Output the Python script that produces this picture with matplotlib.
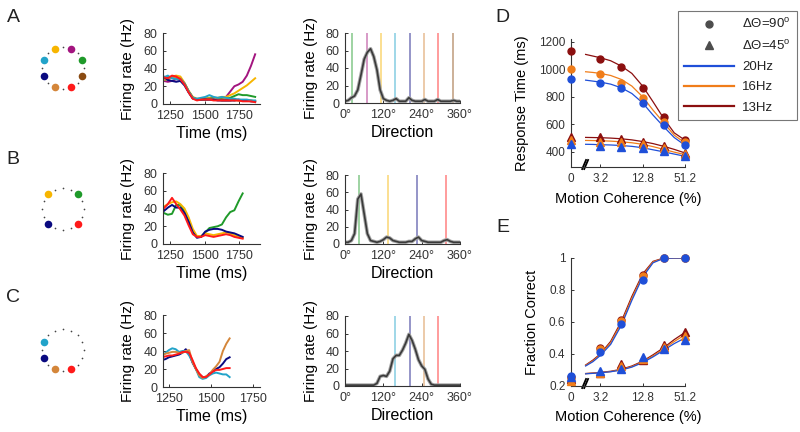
import matplotlib.pyplot as plt
import numpy as np
from matplotlib.lines import Line2D
from matplotlib.ticker import NullLocator

plt.rcParams['font.family'] = ['Liberation Sans', 'DejaVu Sans']
plt.rcParams['mathtext.fontset'] = 'custom'
plt.rcParams['mathtext.rm'] = 'Liberation Sans'
plt.rcParams['axes.linewidth'] = 0.8
plt.rcParams['axes.edgecolor'] = '#333333'
plt.rcParams['xtick.color'] = '#333333'
plt.rcParams['ytick.color'] = '#333333'
plt.rcParams['text.color'] = '#222222'

## DATA ------
col = {
    'yellow': '#f7b500', 'purple': '#a3157f', 'green': '#1f9a2a', 'brown': '#8a4b12',
    'red': '#ff1a1a', 'tan': '#d4863a', 'navy': '#0a0a80', 'cyan': '#22a3c9',
}

# target direction of each colour (deg)
dir_of = {'green': 22.5, 'purple': 67.5, 'yellow': 112.5, 'cyan': 157.5,
          'navy': 202.5, 'tan': 247.5, 'red': 292.5, 'brown': 337.5}
dirs_A = ['green', 'purple', 'yellow', 'cyan', 'navy', 'tan', 'red', 'brown']
dirs_B = {'green': 45, 'yellow': 135, 'navy': 225, 'red': 315}
dirs_C = ['cyan', 'navy', 'tan', 'red']

# firing rate traces (Hz)
t_A = [1205, 1235, 1265, 1295, 1325, 1355, 1385, 1415, 1445, 1475, 1505, 1535,
       1565, 1595, 1625, 1655, 1685, 1715, 1745, 1775, 1805, 1835, 1865]
rate_A = {
    'purple': [26, 25, 26, 28, 27, 22, 14, 7, 5, 5, 6, 6, 6, 6, 6, 8, 14, 20, 22, 25, 32, 43, 56],
    'yellow': [28, 30, 31, 32, 31, 24, 15, 8, 6, 6, 6, 7, 7, 7, 8, 8, 10, 12, 15, 18, 21, 25, 29],
    'green':  [27, 28, 30, 29, 28, 23, 14, 7, 5, 5, 6, 6, 7, 6, 6, 6, 7, 9, 11, 10, 10, 9, 8],
    'brown':  [29, 30, 30, 29, 28, 23, 14, 7, 5, 5, 5, 5, 5, 5, 4, 4, 4, 5, 4, 4, 4, 4, 3],
    'tan':    [27, 28, 30, 30, 29, 23, 14, 7, 5, 5, 5, 6, 6, 5, 5, 6, 5, 4, 4, 4, 4, 3, 3],
    'navy':   [31, 27, 26, 25, 26, 21, 13, 6, 5, 5, 5, 5, 5, 4, 4, 4, 4, 4, 5, 4, 4, 3, 3],
    'cyan':   [30, 32, 29, 28, 28, 23, 14, 7, 6, 7, 8, 10, 8, 7, 8, 7, 6, 6, 5, 5, 5, 4, 4],
    'red':    [30, 29, 32, 31, 28, 22, 13, 6, 4, 5, 5, 5, 4, 4, 4, 4, 4, 4, 4, 3, 3, 3, 2],
}
t_B = [1205, 1235, 1265, 1295, 1325, 1355, 1385, 1415, 1445, 1475,
       1505, 1535, 1565, 1595, 1625, 1655, 1685, 1715, 1745, 1775]
rate_B = {
    'green':  [35, 33, 34, 44, 44, 37, 26, 14, 8, 8, 13, 18, 19, 20, 22, 30, 36, 38, 48, 57],
    'yellow': [42, 45, 47, 48, 45, 40, 30, 17, 9, 9, 12, 11, 10, 11, 12, 13, 12, 10, 8, 7],
    'navy':   [37, 41, 44, 41, 41, 35, 25, 13, 7, 8, 14, 16, 17, 17, 16, 14, 13, 12, 10, 8],
    'red':    [40, 45, 52, 45, 39, 32, 21, 11, 8, 8, 10, 9, 8, 9, 10, 11, 10, 8, 7, 6],
}
t_C = [1210, 1230, 1250, 1270, 1290, 1310, 1330, 1350, 1370, 1390, 1410,
       1430, 1450, 1470, 1490, 1510, 1530, 1550, 1570, 1590, 1610]
rate_C = {
    'navy': [30, 31, 33, 34, 35, 36, 38, 42, 37, 27, 20, 14, 11, 11, 15, 17, 20, 22, 26, 31, 33],
    'cyan': [35, 38, 41, 43, 42, 39, 40, 40, 35, 28, 20, 11, 9, 10, 13, 15, 16, 15, 14, 14, 11],
    'tan':  [35, 37, 38, 39, 39, 38, 38, 40, 41, 28, 20, 13, 10, 12, 14, 19, 23, 28, 40, 48, 54],
    'red':  [33, 34, 35, 35, 36, 37, 39, 39, 38, 30, 21, 15, 11, 11, 14, 17, 19, 19, 20, 21, 21],
}

# direction tuning (Hz)
theta = [0, 10, 20, 30, 40, 50, 60, 70, 80, 90, 100, 110, 120, 130, 140, 150, 160, 170, 180,
         190, 200, 210, 220, 230, 240, 250, 260, 270, 280, 290, 300, 310, 320, 330, 340, 350, 360]
tune_A = [2, 3, 6, 8, 15, 32, 50, 58, 62, 53, 38, 15, 5, 3, 2, 3, 5, 2, 2,
          2, 6, 3, 2, 2, 2, 4, 2, 2, 2, 4, 2, 2, 2, 2, 3, 2, 2]
tune_B = [2, 2, 4, 12, 52, 58, 35, 12, 4, 3, 2, 3, 5, 8, 7, 4, 3, 2, 2,
          2, 3, 3, 6, 8, 4, 3, 2, 2, 2, 2, 2, 4, 5, 3, 2, 2, 2]
tune_C = [1, 1, 1, 1, 1, 1, 1, 1, 1, 1, 3, 11, 12, 11, 17, 31, 35, 35, 41,
          49, 59, 52, 42, 30, 23, 19, 8, 2, 1, 1, 1, 1, 1, 1, 1, 1, 1]

# behaviour vs motion coherence
coh = [0, 3.2, 6.4, 12.8, 25.6, 51.2]
coh_fit = [1.6, 2.4, 3.2, 4.5, 6.4, 9, 12.8, 18, 25.6, 36, 51.2]
freqs = ['13Hz', '16Hz', '20Hz']
fcol = {'20Hz': '#1f4fd8', '16Hz': '#f07d1a', '13Hz': '#8b0f0f'}

rt90 = {'13Hz': [1132, 1074, 1013, 861, 650, 485],
        '16Hz': [1000, 965, 897, 788, 618, 473],
        '20Hz': [928, 902, 861, 752, 594, 453]}
rt45 = {'13Hz': [508, 505, 492, 475, 440, 395],
        '16Hz': [488, 475, 470, 455, 425, 383],
        '20Hz': [457, 445, 437, 425, 403, 372]}
rt90_fit = {'13Hz': [1108, 1096, 1084, 1062, 1023, 970, 878, 764, 642, 538, 485],
            '16Hz': [982, 977, 970, 955, 926, 878, 800, 703, 611, 521, 465],
            '20Hz': [921, 914, 907, 892, 865, 824, 756, 667, 582, 504, 448]}
rt45_fit = {'13Hz': [505, 504, 503, 500, 495, 487, 475, 460, 440, 418, 392],
            '16Hz': [483, 482, 481, 478, 473, 466, 455, 438, 418, 398, 380],
            '20Hz': [455, 454, 452, 450, 446, 440, 430, 415, 400, 384, 368]}

pc90 = {'13Hz': [0.255, 0.44, 0.615, 0.895, 1.0, 1.0],
        '16Hz': [0.25, 0.43, 0.605, 0.885, 1.0, 1.0],
        '20Hz': [0.26, 0.415, 0.585, 0.86, 1.0, 1.0]}
pc45 = {'13Hz': [0.245, 0.28, 0.335, 0.365, 0.455, 0.535],
        '16Hz': [0.23, 0.28, 0.325, 0.37, 0.445, 0.515],
        '20Hz': [0.255, 0.295, 0.305, 0.38, 0.43, 0.49]}
pc90_fit = {'13Hz': [0.331, 0.362, 0.40, 0.479, 0.605, 0.76, 0.90, 0.979, 1.0, 1.0, 1.0],
            '16Hz': [0.328, 0.357, 0.395, 0.47, 0.593, 0.748, 0.89, 0.975, 0.999, 1.0, 1.0],
            '20Hz': [0.325, 0.352, 0.39, 0.46, 0.58, 0.735, 0.88, 0.97, 0.998, 1.0, 1.0]}
pc45_fit = {'13Hz': [0.278, 0.281, 0.285, 0.292, 0.305, 0.325, 0.355, 0.395, 0.44, 0.49, 0.535],
            '16Hz': [0.277, 0.280, 0.284, 0.290, 0.302, 0.321, 0.350, 0.388, 0.432, 0.478, 0.52],
            '20Hz': [0.276, 0.279, 0.283, 0.289, 0.300, 0.318, 0.346, 0.382, 0.424, 0.465, 0.50]}


## LAYOUT ------
W, H = 800, 432
fig = plt.figure(figsize=(W / 100, H / 100), dpi=100)


def ax_px(l, t, r, b):
    # axes placed by pixel box (left, top, right, bottom)
    return fig.add_axes([l / W, 1 - b / H, (r - l) / W, (b - t) / H])


def style(ax, fs=9):
    ax.spines['top'].set_visible(False)
    ax.spines['right'].set_visible(False)
    ax.tick_params(direction='in', length=2.5, width=0.7, labelsize=fs, pad=4)


def circle(cx, cy, coloured):
    ax = ax_px(cx - 30, cy - 30, cx + 30, cy + 30)
    ax.set_xlim(-1.43, 1.43)
    ax.set_ylim(-1.43, 1.43)
    ax.set_axis_off()
    for k in range(16):
        ang = k * 22.5
        x, y = np.cos(np.radians(ang)), np.sin(np.radians(ang))
        hit = [c for c, a in coloured.items() if abs(a - ang) < 1]
        if hit:
            ax.scatter([x], [y], s=30, color=col[hit[0]], zorder=3, lw=0)
        else:
            ax.scatter([x], [y], s=1.5, color='#444444', lw=0)


def time_panel(t, rates, box, xlim):
    ax = ax_px(*box)
    for c, r in rates.items():
        ax.plot(t, r, color=col[c], lw=1.4)
    ax.set_xlim(*xlim)
    ax.set_ylim(0, 80)
    ax.set_xticks([1250, 1500, 1750])
    ax.set_yticks([0, 20, 40, 60, 80])
    style(ax)
    ax.set_xlabel('Time (ms)', fontsize=11.5, labelpad=3)
    ax.set_ylabel('Firing rate (Hz)', fontsize=11, labelpad=6)
    return ax


def dir_panel(tune, lines, box):
    ax = ax_px(*box)
    for c, a in lines.items():
        ax.axvline(a, color=col[c], lw=1.1, alpha=0.55)
    ax.plot(theta, tune, color='#a5a5a5', lw=2.6, solid_capstyle='round')
    ax.plot(theta, tune, color='#3a3a3a', lw=1.2)
    ax.set_xlim(0, 360)
    ax.set_ylim(0, 80)
    ax.set_xticks([0, 120, 240, 360])
    ax.set_xticklabels(['0°', '120°', '240°', '360°'])
    ax.set_yticks([0, 20, 40, 60, 80])
    style(ax)
    ax.set_xlabel('Direction', fontsize=11.5, labelpad=3)
    ax.set_ylabel('Firing rate (Hz)', fontsize=11, labelpad=5)
    return ax


# A
circle(63, 68, {c: dir_of[c] for c in dirs_A})
time_panel(t_A, rate_A, (163, 33, 260, 104), (1200, 1900))
dir_panel(tune_A, {c: dir_of[c] for c in dirs_A}, (345, 33, 460, 103))

# B
circle(63, 209, dirs_B)
time_panel(t_B, rate_B, (163, 173, 260, 244), (1200, 1900))
dir_panel(tune_B, dirs_B, (345, 175, 460, 244))

# C
circle(63, 350, {c: dir_of[c] for c in dirs_C})
time_panel(t_C, rate_C, (163, 315, 260, 387), (1215, 1790))
dir_panel(tune_C, {c: dir_of[c] for c in dirs_C}, (345, 316, 460, 386))


def coh_panel(ax, d90, d45, f90, f45):
    ax.set_xscale('symlog', base=2, linthresh=3.2, linscale=0.69)
    for f in freqs:
        c = fcol[f]
        ax.plot(coh_fit, f90[f], color=c, lw=0.9)
        ax.plot(coh_fit, f45[f], color=c, lw=0.9)
        ax.plot(coh, d90[f], ls='none', marker='o', ms=5, color=c, mec=c, clip_on=False, zorder=4)
        ax.plot(coh, d45[f], ls='none', marker='^', ms=5.5, color=c, mec=c, clip_on=False, zorder=4)
    ax.set_xlim(0, 51.2)
    ax.set_xticks([0, 3.2, 12.8, 51.2])
    ax.set_xticklabels(['0', '3.2', '12.8', '51.2'])
    ax.xaxis.set_minor_locator(NullLocator())
    style(ax, fs=8.5)
    # axis break mark
    for dx in (0, 0.018):
        ax.plot([0.098 + dx, 0.132 + dx], [-0.016, 0.055], color='black', lw=1.3,
                transform=ax.transAxes, clip_on=False)
    ax.set_xlabel('Motion Coherence (%)', fontsize=10.5, labelpad=5)


axD = ax_px(571, 39, 685, 167)
coh_panel(axD, rt90, rt45, rt90_fit, rt45_fit)
axD.set_ylim(290, 1220)
axD.set_yticks([400, 600, 800, 1000, 1200])
axD.set_ylabel('Response Time (ms)', fontsize=10.5, labelpad=7)

axE = ax_px(571, 258, 685, 386)
coh_panel(axE, pc90, pc45, pc90_fit, pc45_fit)
axE.set_ylim(0.2, 1.0)
axE.set_yticks([0.2, 0.4, 0.6, 0.8, 1.0])
axE.set_yticklabels(['0.2', '0.4', '0.6', '0.8', '1'])
axE.set_ylabel('Fraction Correct', fontsize=10.5, labelpad=7)

handles = [
    Line2D([], [], ls='none', marker='o', ms=5, color='#4d4d4d'),
    Line2D([], [], ls='none', marker='^', ms=5.5, color='#4d4d4d'),
    Line2D([], [], color=fcol['20Hz'], lw=1.6),
    Line2D([], [], color=fcol['16Hz'], lw=1.6),
    Line2D([], [], color=fcol['13Hz'], lw=1.6),
]
labels = [r'ΔΘ=90$^{\rm o}$', r'ΔΘ=45$^{\rm o}$', '20Hz', '16Hz', '13Hz']
leg = fig.legend(handles, labels, loc='upper left', bbox_to_anchor=(671 / W, 1 - 4 / H),
                 frameon=True, fancybox=False, edgecolor='#555555', fontsize=9.5,
                 handlelength=3.8, handletextpad=0.6, labelspacing=0.6, borderpad=0.5)
leg.get_frame().set_linewidth(0.8)

for letter, x, y in [('A', 13, 17), ('B', 13, 160), ('C', 13, 297), ('D', 502, 17), ('E', 503, 228)]:
    fig.text(x / W, 1 - y / H, letter, fontsize=14, ha='center', va='center')

fig.savefig('out.png', dpi=100)
